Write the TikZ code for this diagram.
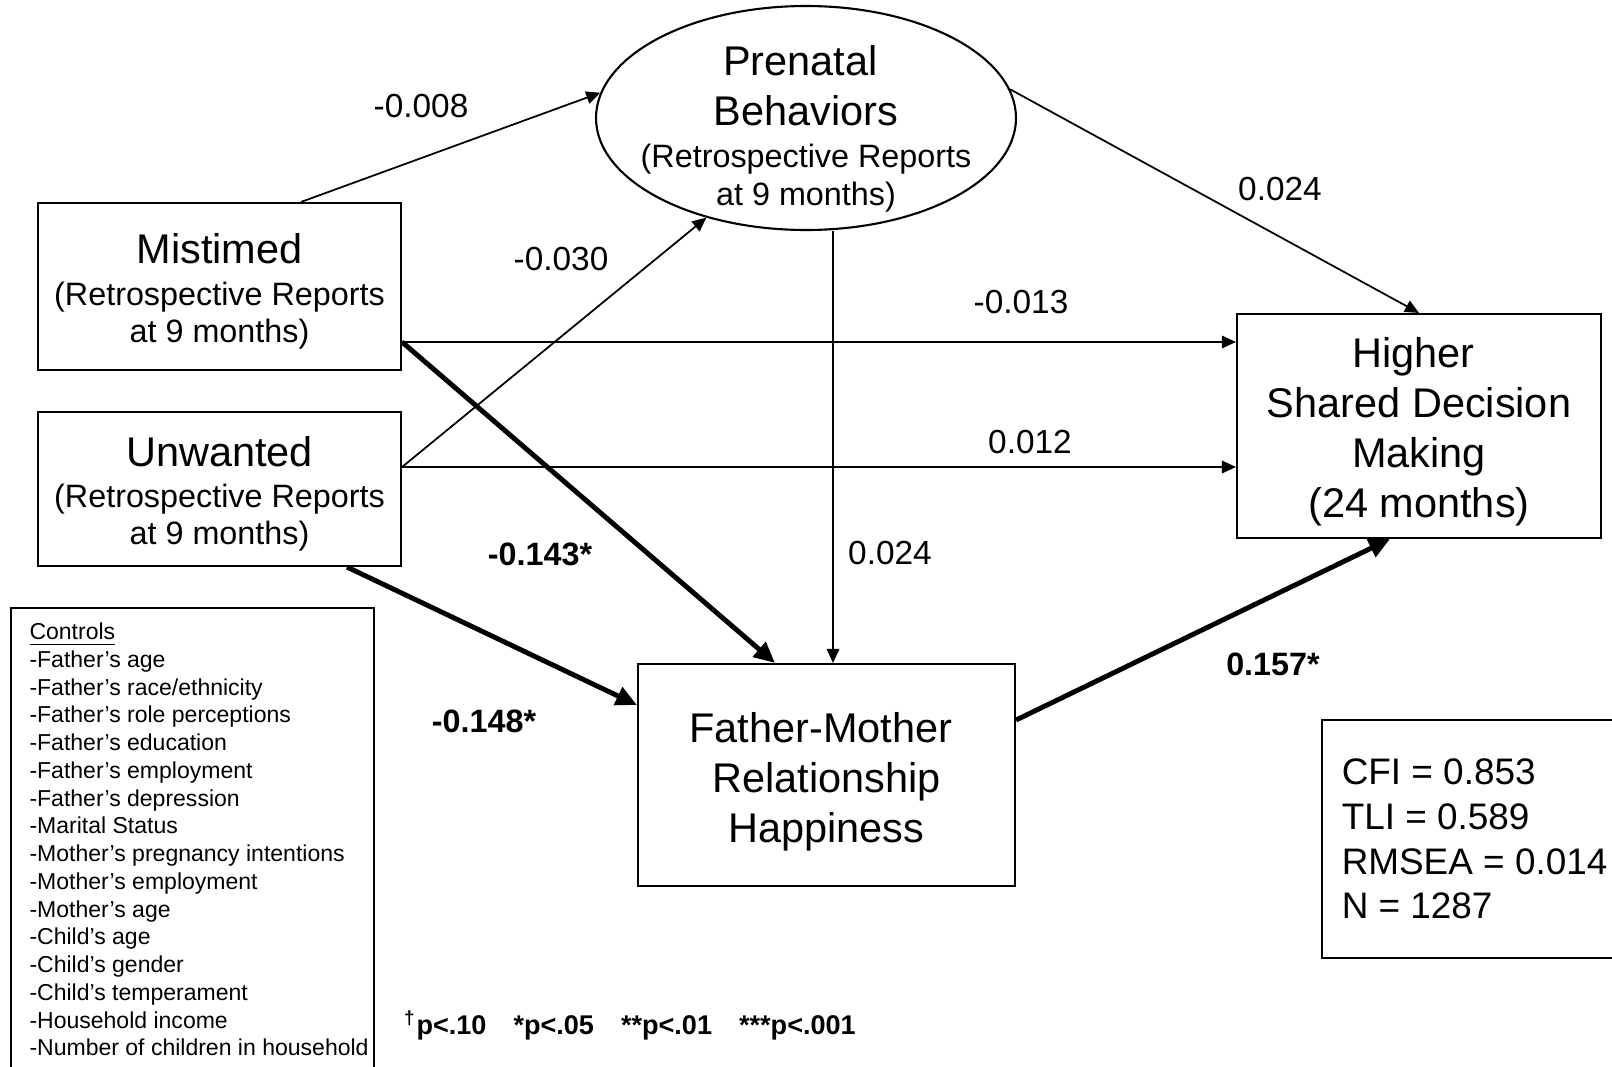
\documentclass[tikz,border=0pt]{standalone}
\usepackage{fontspec}
\setmainfont{Liberation Sans}
\usetikzlibrary{positioning,calc}
\usetikzlibrary{arrows.meta,shapes.geometric}
\newcommand{\bigtxt}{\fontsize{11.8}{14.2}\selectfont}
\newcommand{\subtxt}{\fontsize{9.2}{10.8}\selectfont}
\newcommand{\tsp}{\hspace*{0.278em}}
\newcommand{\lift}[1]{\rule{0pt}{#1}}
\tikzset{
	var/.style={rectangle,draw=black,line width=0.6pt,align=center,inner sep=0pt,font=\bigtxt},
	latent/.style={ellipse,draw=black,line width=0.6pt,inner sep=0pt},
	eff/.style={draw=black,line width=0.5pt,-{Triangle[length=1.4mm,width=1.25mm]}},
	sigeff/.style={draw=black,line width=1.4pt,-{Triangle[length=2.1mm,width=1.9mm]}},
	coef/.style={font=\fontsize{9.5}{11}\selectfont,inner sep=1pt},
	sigcoef/.style={font=\bfseries\fontsize{9.2}{11}\selectfont,inner sep=1pt},
	infobox/.style={draw=black,line width=0.6pt,align=left,anchor=north west},
}

\begin{document}
\begin{tikzpicture}[x=0.1mm,y=-0.1mm]
	\useasboundingbox (0,0) rectangle (1612,1067);
	\node[var,minimum width=36.3mm,minimum height=16.7mm] (mist) at (219.5,286.5) {\lift{11.35pt}Mistimed\\[-2.3pt]\subtxt(Retrospective Reports\tsp\\[-3.4pt]\subtxt at 9 months)};
	\node[var,minimum width=36.3mm,minimum height=15.4mm] (unw) at (219.5,489) {\lift{11.35pt}Unwanted\\[-2.6pt]\subtxt(Retrospective Reports\tsp\\[-3.4pt]\subtxt at 9 months)};
	\node[latent,minimum width=42mm,minimum height=22.4mm] (pren) at (806,118) {};
	\node[align=center,inner sep=0pt,font=\bigtxt] (prentext) at (806,129) {Prenatal\tsp\\[0pt]Behaviors\\[-2.3pt]\subtxt(Retrospective Reports\tsp\\[-3.4pt]\subtxt at 9 months)};
	\node[var,minimum width=36.4mm,minimum height=22.4mm] (high) at (1419,426) {\lift{11.65pt}Higher\tsp\\Shared Decision\\Making\tsp\\(24 months)};
	\node[var,minimum width=37.7mm,minimum height=22.2mm] (fm) at (826.5,775) {\lift{12.55pt}Father-Mother\tsp\\Relationship\\Happiness};
	\coordinate (mo) at ([yshift=-5.55mm]mist.east);
	\coordinate (uo) at ([yshift=2.2mm]unw.east);
	\coordinate (po) at ([xshift=2.7mm]pren.south);
	\draw[eff] ([xshift=-10.1mm]mist.north east) -- (pren.173);
	\draw[eff] (uo) -- (pren.225);
	\draw[eff] (pren.8) -- (high.north);
	\draw[eff] (mo) -- (mo -| high.west);
	\draw[eff] (uo) -- (uo -| high.west);
	\draw[eff] (po) -- (po |- fm.north);
	\draw[sigeff] (mo) -- ([xshift=-5.15mm]fm.north);
	\draw[sigeff] ([xshift=-5.5mm]unw.south east) -- ([yshift=7mm]fm.west);
	\draw[sigeff] ([yshift=5.5mm]fm.east) -- ([xshift=-2.9mm]high.south);
	\foreach \n/\x/\y/\t in {c1/421/106/-0.008,c2/561/259/-0.030,c3/1280/189/0.024,c4/1021/302/-0.013,c5/1030/442/0.012,c6/890/553/0.024}
		\node[coef] (\n) at (\x,\y) {\t};
	\foreach \n/\x/\y/\t in {b1/540/554/-0.143*,b2/484/721/-0.148*,b3/1273/664/0.157*}
		\node[sigcoef] (\n) at (\x,\y) {\t};
	\node[infobox,minimum width=36.3mm,inner ysep=1.2mm,inner xsep=0pt,font=\fontsize{6.55}{7.9}\selectfont] (ctrl) at (10,607) {\begin{tabular}{@{\hspace{1.7mm}}l@{\hspace{0.4mm}}}
		\underline{Controls}\\-Father’s age\\-Father’s race/ethnicity\\-Father’s role perceptions\\-Father’s education\\-Father’s employment\\-Father’s depression\\-Marital Status\\-Mother’s pregnancy intentions\\-Mother’s employment\\-Mother’s age\\-Child’s age\\-Child’s gender\\-Child’s temperament\\-Household income\\-Number of children in household
	\end{tabular}};
	\node[infobox,minimum width=30.5mm,minimum height=23.8mm,inner xsep=0pt,font=\fontsize{10.5}{12.7}\selectfont] (fit) at (1321,719) {CFI = 0.853\\TLI = 0.589\\RMSEA = 0.014\\N = 1287};
	\node[font=\bfseries\fontsize{7.7}{9}\selectfont] (note) at (630,1025) {\textsuperscript{†}p<.10\hspace{1em}*p<.05\hspace{1em}**p<.01\hspace{1em}***p<.001};
\end{tikzpicture}
\end{document}
